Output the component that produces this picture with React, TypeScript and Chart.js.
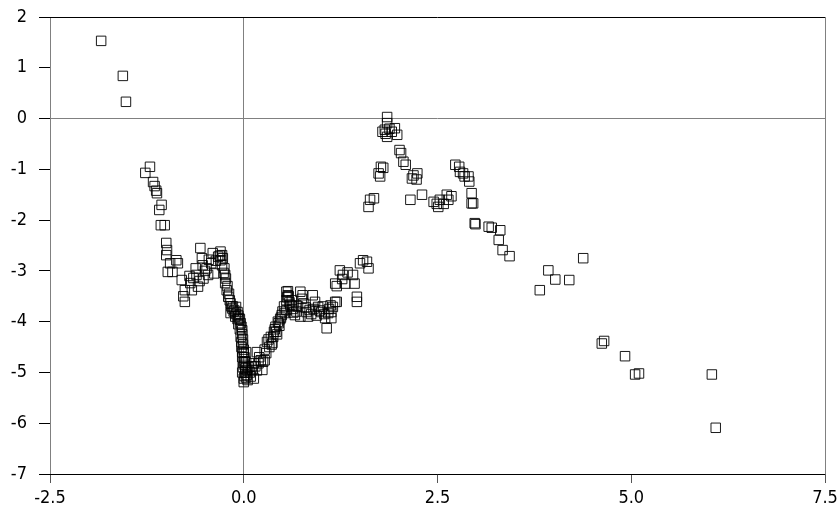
import React, { useEffect, useRef } from "react";
import { Chart, registerables } from "chart.js";

Chart.register(...registerables);

// Hand-read scatter values [x, y]
const leftTail: number[][] = [
  [-1.84, 1.53], [-1.56, 0.84], [-1.52, 0.33],
];

const leftBranch: number[][] = [
  [-1.21, -0.95], [-1.27, -1.07], [-1.17, -1.25], [-1.15, -1.33], [-1.13, -1.42],
  [-1.12, -1.47], [-1.06, -1.70], [-1.09, -1.80], [-1.07, -2.10], [-1.02, -2.10],
  [-1.00, -2.45], [-0.99, -2.59], [-1.00, -2.69], [-0.98, -3.02], [-0.92, -3.02],
  [-0.87, -2.79], [-0.85, -2.85], [-0.95, -2.85], [-0.80, -3.18], [-0.76, -3.38],
  [-0.76, -3.61], [-0.78, -3.50], [-0.69, -3.24], [-0.65, -3.14], [-0.61, -3.08],
  [-0.59, -3.31], [-0.67, -3.38],
];

const midCluster: number[][] = [
  [-0.56, -2.55], [-0.54, -2.75], [-0.53, -2.89], [-0.48, -2.95], [-0.46, -3.08],
  [-0.40, -2.65], [-0.42, -2.85], [-0.33, -2.72], [-0.28, -2.69], [-0.30, -2.79],
  [-0.28, -2.89], [-0.26, -3.04], [-0.24, -3.08], [-0.24, -3.24], [-0.22, -3.38],
  [-0.20, -3.51], [-0.17, -3.64], [-0.17, -3.83], [-0.15, -3.74], [-0.10, -3.71],
  [-0.08, -3.81], [-0.06, -3.93], [-0.04, -4.03], [-0.02, -4.17], [-0.50, -3.00],
  [-0.36, -2.80], [-0.45, -2.78], [-0.38, -3.05], [-0.52, -3.15], [-0.62, -2.95],
  [-0.70, -3.10], [-0.57, -3.20], [-0.30, -2.62], [-0.27, -2.75], [-0.25, -2.95],
  [-0.31, -2.70], [-0.23, -3.15], [-0.21, -3.30], [-0.19, -3.45], [-0.18, -3.58],
  [-0.16, -3.70], [-0.13, -3.80], [-0.11, -3.90],
];

const valley: number[][] = [
  [-0.03, -4.10], [-0.02, -4.25], [-0.01, -4.35], [-0.01, -4.45], [0.00, -4.55],
  [0.00, -4.62], [0.01, -4.70], [0.01, -4.78], [0.01, -4.85], [0.02, -4.92],
  [0.02, -5.00], [0.01, -5.07], [0.00, -5.12], [0.00, -5.19], [-0.05, -3.95],
  [-0.07, -3.88], [-0.12, -3.78], [-0.14, -3.70], [0.06, -4.90], [0.13, -4.82],
  [0.17, -4.60], [0.22, -4.76], [0.25, -4.79], [0.13, -5.12], [0.05, -5.15],
  [0.17, -4.96], [0.19, -4.82], [0.10, -4.88], [0.08, -5.00], [0.04, -5.05],
  [0.27, -4.76], [0.24, -4.95], [-0.10, -3.85], [-0.08, -3.95], [-0.07, -4.05],
  [-0.05, -4.15], [-0.04, -4.30], [-0.03, -4.40], [-0.03, -4.50], [-0.02, -4.60],
  [-0.02, -4.70], [-0.01, -4.80], [-0.01, -4.90], [-0.02, -5.00], [0.03, -5.10],
  [0.03, -4.80], [0.04, -4.95], [0.03, -4.60], [0.11, -4.95], [0.09, -5.08],
  [0.15, -4.88], [0.20, -4.70],
];

const rightRise: number[][] = [
  [0.30, -4.40], [0.35, -4.30], [0.37, -4.42], [0.39, -4.20], [0.41, -4.10],
  [0.45, -4.03], [0.49, -3.87], [0.53, -3.83], [0.55, -3.77], [0.55, -3.41],
  [0.57, -3.48], [0.55, -3.58], [0.62, -3.58], [0.60, -3.67], [0.66, -3.87],
  [0.73, -3.41], [0.76, -3.48], [0.77, -3.64], [0.73, -3.90], [0.81, -3.81],
  [0.85, -3.77], [0.89, -3.48], [0.92, -3.61], [0.96, -3.71], [1.00, -3.81],
  [1.05, -3.93], [1.07, -4.13], [1.09, -3.83], [1.13, -3.81], [1.15, -3.71],
  [1.20, -3.61], [1.18, -3.25], [1.24, -2.99], [1.28, -3.08], [1.31, -3.25],
  [1.27, -3.16], [1.34, -3.03], [1.41, -3.08], [1.43, -3.25], [1.46, -3.51],
  [1.46, -3.61], [1.50, -2.85], [1.54, -2.79], [1.59, -2.82], [1.61, -2.95],
  [0.43, -4.25], [0.33, -4.50], [0.47, -3.95], [0.52, -3.70], [0.58, -3.50],
  [0.63, -3.75], [0.68, -3.80], [0.70, -3.70], [0.87, -3.85], [0.94, -3.88],
  [1.02, -3.70], [1.18, -3.61], [1.13, -3.93], [1.20, -3.30], [0.32, -4.35],
  [0.36, -4.45], [0.38, -4.30], [0.40, -4.15], [0.42, -4.20], [0.44, -4.00],
  [0.46, -4.08], [0.48, -3.92], [0.50, -3.80], [0.27, -4.55], [0.29, -4.62],
  [0.57, -3.40], [0.56, -3.52], [0.59, -3.62], [0.62, -3.70], [0.64, -3.82],
  [0.68, -3.68], [0.75, -3.55], [0.80, -3.72], [0.83, -3.90], [0.90, -3.75],
  [0.98, -3.78], [1.04, -3.85], [1.10, -3.75], [1.12, -3.68],
];

const peak: number[][] = [
  [1.61, -1.74], [1.63, -1.60], [1.68, -1.57], [1.74, -1.08], [1.76, -1.14],
  [1.77, -0.95], [1.80, -0.97], [1.85, 0.03], [1.85, -0.09], [1.82, -0.22],
  [1.79, -0.26], [1.85, -0.36], [1.91, -0.26], [1.95, -0.19], [1.98, -0.32],
  [2.01, -0.62], [2.03, -0.68], [2.06, -0.85], [2.09, -0.91], [2.17, -1.18],
  [2.19, -1.12], [2.24, -1.08], [2.23, -1.20], [1.83, -0.30], [1.88, -0.20],
];

const midRight: number[][] = [
  [2.15, -1.60], [2.30, -1.50], [2.45, -1.64], [2.51, -1.74], [2.53, -1.60],
  [2.62, -1.50], [2.64, -1.60], [2.68, -1.53], [2.49, -1.68], [2.58, -1.68],
  [2.73, -0.91], [2.78, -0.95], [2.79, -1.05], [2.83, -1.08], [2.85, -1.14],
  [2.90, -1.14], [2.91, -1.24], [2.94, -1.47], [2.96, -1.67], [2.94, -1.67],
  [2.98, -2.06], [2.99, -2.08], [3.16, -2.13], [3.20, -2.15], [3.31, -2.20],
  [3.29, -2.39], [3.34, -2.59], [3.43, -2.71],
];

const farRight: number[][] = [
  [4.38, -2.75], [3.93, -2.99], [4.02, -3.17], [4.20, -3.18], [3.82, -3.38],
  [4.62, -4.43], [4.65, -4.38], [4.92, -4.68], [5.05, -5.04], [5.10, -5.02],
  [6.04, -5.04], [6.09, -6.09],
];

const xTicks = [-2.5, 0, 2.5, 5, 7.5];
const yTicks = [2, 1, 0, -1, -2, -3, -4, -5, -6, -7];

const allPoints = [
  ...leftTail, ...leftBranch, ...midCluster, ...valley,
  ...rightRise, ...peak, ...midRight, ...farRight,
];

const FONT = "'Liberation Sans Narrow', 'DejaVu Sans Condensed', 'Arial Narrow', sans-serif";

export default function App() {
  const ref = useRef<HTMLCanvasElement | null>(null);

  useEffect(() => {
    if (!ref.current) return;
    const chart = new Chart(ref.current, {
      type: "scatter",
      data: {
        datasets: [
          {
            data: allPoints.map(([x, y]) => ({ x, y })),
            pointStyle: "rect",
            pointRadius: 6.7,
            pointBorderWidth: 1,
            pointBorderColor: "rgba(0,0,0,0.9)",
            pointBackgroundColor: "rgba(0,0,0,0)",
          },
        ],
      },
      options: {
        animation: false,
        responsive: true,
        maintainAspectRatio: false,
        layout: { padding: { top: 17, right: 14, left: 0, bottom: 0 } },
        plugins: { legend: { display: false }, tooltip: { enabled: false } },
        scales: {
          x: {
            type: "linear",
            min: -2.5,
            max: 7.5,
            afterBuildTicks: (s: any) => {
              s.ticks = xTicks.map((v) => ({ value: v }));
            },
            afterFit: (s: any) => {
              s.height = 53;
              s.paddingLeft = 0;
              s.paddingRight = 0;
            },
            border: { display: false },
            grid: {
              color: (ctx: any) => {
                const v = ctx.tick && ctx.tick.value;
                if (v === 0 || v === -2.5 || v === 7.5) return "#808080";
                return "rgba(0,0,0,0)";
              },
              lineWidth: 1,
              tickColor: "#555",
              tickLength: 9,
            },
            ticks: {
              color: "#000",
              font: { family: FONT, size: 18 },
              padding: 5,
              maxRotation: 0,
              callback: (v: any) => Number(v).toFixed(1),
            },
          },
          y: {
            type: "linear",
            min: -7,
            max: 2,
            afterBuildTicks: (s: any) => {
              s.ticks = yTicks.map((v) => ({ value: v }));
            },
            afterFit: (s: any) => {
              s.width = 50;
              s.paddingTop = 0;
              s.paddingBottom = 0;
            },
            border: { display: false },
            grid: {
              color: (ctx: any) => {
                const v = ctx.tick && ctx.tick.value;
                if (v === 2 || v === -7) return "#000";
                if (v === 0) return "#808080";
                return "rgba(0,0,0,0)";
              },
              lineWidth: 1,
              tickColor: "#000",
              tickLength: 11,
            },
            ticks: {
              color: "#000",
              font: { family: FONT, size: 18 },
              padding: 12,
              callback: (v: any) => String(v),
            },
          },
        },
      },
    });
    return () => chart.destroy();
  }, []);

  return (
    <div style={{ position: "fixed", left: 0, top: 0, width: 839, height: 527, background: "#fff" }}>
      <canvas ref={ref} />
    </div>
  );
}
